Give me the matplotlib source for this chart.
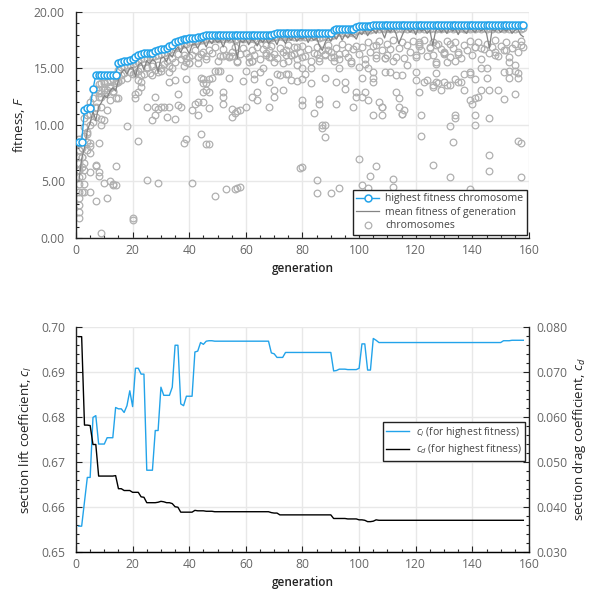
import matplotlib
matplotlib.use('Agg')
import matplotlib.pyplot as plt
from matplotlib.ticker import MultipleLocator, FormatStrFormatter

plt.rcParams['font.family'] = 'Open Sans'
plt.rcParams['font.size'] = 7.5
plt.rcParams['mathtext.fontset'] = 'custom'
plt.rcParams['mathtext.rm'] = 'Open Sans'
plt.rcParams['mathtext.it'] = 'Open Sans:italic'

BLUE = '#22a3ea'
GREY_PT = '#b0b0b0'
GREY_LN = '#848484'
TICK_C = '#666666'
TICK_FS = 8.7
LABEL_FS = 9.5

# ---- data: generations 1..158 ----
gens = list(range(1, 159))

best_fit = [8.5, 8.5, 11.36, 11.54, 11.54, 13.16, 14.43, 14.43, 14.43, 14.43,
            14.43, 14.43, 14.43, 14.43, 15.52, 15.6, 15.63, 15.7, 15.76, 15.85,
            16.0, 16.15, 16.3, 16.35, 16.35, 16.35, 16.4, 16.53, 16.6, 16.7,
            16.75, 16.83, 16.95, 17.1, 17.35, 17.44, 17.56, 17.6, 17.65, 17.68,
            17.7, 17.72, 17.76, 17.8, 17.87, 17.93, 17.96, 17.96, 17.96, 17.96,
            17.96, 17.96, 17.96, 17.96, 17.96, 17.96, 17.96, 17.96, 17.96, 17.96,
            17.96, 17.96, 17.96, 17.96, 17.96, 17.96, 17.96, 17.96, 17.96, 18.04,
            18.1, 18.17, 18.17, 18.17, 18.17, 18.17, 18.17, 18.17, 18.17, 18.17,
            18.17, 18.17, 18.17, 18.17, 18.17, 18.17, 18.17, 18.17, 18.17, 18.17,
            18.4, 18.47, 18.47, 18.47, 18.47, 18.47, 18.47, 18.47, 18.65, 18.8,
            18.8, 18.8, 18.8, 18.8, 18.88, 18.88, 18.88, 18.88, 18.88, 18.88,
            18.88, 18.88, 18.88, 18.88, 18.88, 18.88, 18.88, 18.88, 18.88, 18.88,
            18.88, 18.88, 18.88, 18.88, 18.88, 18.88, 18.88, 18.88, 18.88, 18.88,
            18.88, 18.88, 18.88, 18.88, 18.88, 18.88, 18.88, 18.88, 18.88, 18.88,
            18.88, 18.88, 18.88, 18.88, 18.88, 18.88, 18.88, 18.88, 18.88, 18.88,
            18.88, 18.88, 18.88, 18.88, 18.88, 18.88, 18.88, 18.88]

mean_fit = [5.0, 7.0, 8.0, 9.5, 10.2, 11.2, 10.4, 11.6, 12.0, 12.6,
            12.4, 13.0, 13.3, 13.0, 14.0, 14.6, 14.9, 14.5, 15.0, 15.1,
            14.3, 15.3, 15.5, 14.9, 15.7, 15.4, 15.8, 15.6, 14.7, 15.9,
            16.0, 15.6, 16.3, 16.0, 16.6, 16.9, 16.4, 17.0, 16.8, 16.3,
            17.1, 17.2, 16.8, 17.3, 17.4, 16.9, 17.5, 17.2, 17.6, 17.3,
            17.5, 16.9, 17.6, 17.4, 17.7, 17.2, 15.9, 17.5, 17.3, 17.6,
            17.1, 17.6, 17.4, 17.0, 17.6, 17.3, 17.7, 17.2, 17.5, 17.6,
            17.1, 17.8, 17.6, 17.2, 17.8, 17.5, 17.9, 17.4, 17.7, 17.6,
            17.9, 17.3, 17.8, 17.5, 17.7, 17.0, 16.6, 17.3, 17.8, 17.4,
            17.9, 17.6, 18.1, 17.5, 18.0, 17.7, 18.1, 17.9, 17.6, 18.2,
            18.0, 18.4, 17.9, 18.3, 18.4, 18.1, 18.6, 18.3, 17.7, 18.5,
            18.2, 18.6, 18.1, 17.2, 17.8, 18.4, 18.6, 18.2, 18.5, 18.0,
            18.6, 18.3, 18.5, 18.1, 18.4, 17.05, 18.3, 18.6, 18.2, 18.5,
            18.1, 18.6, 18.3, 18.5, 18.0, 18.6, 18.3, 18.1, 18.6, 18.4,
            18.2, 18.6, 18.3, 18.5, 18.1, 16.8, 18.5, 18.3, 18.6, 18.2,
            18.5, 18.3, 18.6, 18.1, 18.4, 18.5, 18.0, 17.8]

# chromosomes close to the top of each generation (one per generation)
chrom_hi = [7.8, 8.0, 10.6, 10.9, 11.0, 12.4, 13.2, 13.6, 13.7, 13.9,
            13.8, 14.0, 14.1, 13.9, 14.9, 15.1, 15.2, 15.3, 15.3, 15.4,
            15.5, 15.6, 15.8, 15.9, 15.8, 16.0, 16.0, 16.1, 16.2, 16.3,
            16.4, 16.5, 16.6, 16.7, 16.9, 17.0, 17.1, 17.2, 17.2, 17.3,
            17.3, 17.4, 17.4, 17.5, 17.5, 17.6, 17.6, 17.6, 17.7, 17.6,
            17.7, 17.6, 17.7, 17.6, 17.7, 17.5, 17.6, 17.7, 17.6, 17.7,
            17.6, 17.7, 17.6, 17.5, 17.7, 17.6, 17.7, 17.6, 17.7, 17.8,
            17.8, 17.9, 17.8, 17.9, 17.8, 17.9, 17.8, 17.9, 17.8, 17.9,
            17.8, 17.9, 17.8, 17.9, 17.8, 17.7, 17.8, 17.9, 17.8, 17.9,
            18.0, 18.1, 18.2, 18.1, 18.2, 18.1, 18.2, 18.1, 18.3, 18.4,
            18.5, 18.4, 18.5, 18.4, 18.5, 18.6, 18.5, 18.6, 18.5, 18.6,
            18.5, 18.6, 18.5, 18.6, 18.5, 18.6, 18.5, 18.6, 18.5, 18.6,
            18.5, 18.6, 18.5, 18.6, 18.5, 18.6, 18.5, 18.6, 18.5, 18.6,
            18.5, 18.6, 18.5, 18.6, 18.5, 18.6, 18.5, 18.6, 18.5, 18.6,
            18.5, 18.6, 18.5, 18.6, 18.5, 18.6, 18.5, 18.6, 18.5, 18.6,
            18.5, 18.6, 18.5, 18.6, 18.5, 18.6, 18.5, 18.6]

# a second, lower chromosome per generation
chrom_lo = [6.0, 7.2, 9.0, 9.4, 10.0, 10.3, 11.5, 12.8, 12.5, 13.1,
            12.9, 13.3, 13.0, 13.7, 13.9, 14.4, 14.6, 14.2, 14.7, 14.5,
            14.6, 14.0, 15.0, 14.5, 15.1, 14.6, 15.2, 14.9, 15.3, 14.8,
            15.4, 15.7, 15.2, 15.9, 15.6, 16.3, 15.8, 16.2, 15.9, 15.5,
            16.2, 16.6, 16.0, 16.3, 16.5, 15.8, 16.6, 16.4, 16.9, 15.7,
            16.1, 16.7, 16.2, 16.0, 16.5, 16.9, 15.7, 16.3, 16.8, 16.4,
            15.6, 16.6, 16.2, 16.9, 15.8, 16.7, 16.4, 16.0, 17.0, 16.3,
            15.9, 16.8, 15.5, 16.6, 17.1, 16.2, 16.9, 15.8, 16.5, 17.0,
            16.1, 16.7, 15.7, 16.4, 16.9, 15.9, 16.6, 16.2, 17.1, 16.5,
            16.0, 16.8, 15.8, 17.2, 16.4, 16.9, 15.5, 16.7, 17.0, 16.3,
            16.9, 15.8, 17.3, 16.5, 17.0, 16.2, 17.4, 16.6, 15.9, 17.2,
            16.7, 17.5, 16.0, 16.8, 17.3, 15.9, 17.1, 16.5, 17.4, 16.2,
            17.0, 16.6, 17.5, 16.1, 16.9, 17.3, 15.6, 17.2, 16.7, 16.4,
            17.4, 16.0, 16.8, 17.3, 16.5, 15.9, 17.1, 16.6, 17.4, 16.2,
            16.9, 17.3, 15.8, 16.7, 17.2, 16.4, 16.9, 17.5, 16.1, 17.0,
            16.6, 17.3, 16.0, 16.8, 17.2, 16.5, 17.4, 16.9]

# remaining chromosomes, read point by point
extra_gen = [1, 1, 1, 1, 1, 1, 1, 1, 1, 1, 1, 1, 1,
             2, 2, 2, 2, 3, 3, 3, 3, 3, 4, 4, 4,
             5, 5, 5, 5, 5, 5, 5, 7, 7, 7, 7, 7, 8, 8, 8, 8, 8,
             9, 9, 9, 9, 10, 10, 10, 10, 11, 11, 11, 12, 12, 12, 13, 13, 13,
             14, 14, 14, 15, 15, 16, 18, 20, 20, 21, 21, 22, 22, 23, 23,
             25, 25, 27, 28, 28, 28, 29, 29, 30, 31, 32, 33, 33, 35, 35, 36, 36, 37,
             22, 23, 25, 27, 29, 30, 33, 34, 38, 39, 39, 39, 38,
             40, 40, 43, 43, 46, 44, 45, 45, 46, 47, 48, 49, 50, 51,
             45, 46, 47, 47, 45, 43, 42, 41, 43, 52, 54, 55, 57, 54, 52, 52, 52,
             55, 56, 55, 57, 58, 60, 59, 60, 61, 62, 62, 62, 64, 64, 63, 63, 65, 66,
             67, 67, 68, 69, 70, 68, 68, 70, 70, 73, 74, 75, 76, 77, 78,
             71, 72, 73, 74, 75, 76, 78, 78, 41, 44, 46, 47, 49, 53, 56, 57, 58, 79,
             80, 80, 80, 81, 83, 83, 80, 80, 84, 86, 86, 87, 88, 87, 88,
             80, 85, 85, 90, 93, 85, 86, 88, 89, 90, 91, 93,
             88, 92, 95, 95, 93, 96, 97, 92, 98, 99, 99, 101, 102, 103,
             100, 101, 102, 103, 105, 106, 106, 105, 105, 107, 108, 108, 105, 108,
             109, 110, 109, 111, 112, 113, 114, 114, 115, 115, 116, 113, 115, 117,
             100, 106, 104, 103, 101, 112, 112,
             120, 121, 121, 120, 120, 121, 122, 122, 126,
             123, 124, 126, 126, 127, 128, 130, 131, 129, 132,
             125, 126, 127, 127, 130, 130, 131, 132, 134, 135,
             127, 134, 135, 136, 137, 139, 139, 141,
             134, 134, 132, 133, 132, 139,
             137, 139, 140, 141, 142, 143, 146, 149, 151, 155,
             141, 141, 146, 146, 146, 156, 157, 157,
             141, 143, 145, 145, 143, 148, 148, 152, 153, 151, 153, 153, 155, 155, 156, 156, 157]
extra_fit = [8.8, 8.4, 7.8, 7.2, 6.6, 6.0, 5.4, 4.8, 4.1, 3.5, 2.9, 2.3, 1.8,
             7.2, 6.3, 4.1, 5.5, 9.8, 4.1, 4.8, 6.6, 6.0, 9.2, 8.5, 7.8,
             8.4, 8.1, 7.5, 5.8, 4.1, 12.0, 11.6, 3.3, 6.5, 6.4, 11.6, 10.7, 8.4, 5.8, 5.5, 13.1, 12.5,
             0.45, 10.0, 10.5, 11.6, 10.4, 4.9, 12.7, 13.7, 3.5, 11.3, 13.1, 5.0, 12.2, 13.4, 4.8, 4.7, 12.9,
             4.7, 6.4, 12.4, 12.4, 13.8, 14.0, 9.9, 1.8, 1.6, 12.7, 12.4, 8.6, 12.9, 13.8, 13.4,
             5.1, 11.6, 10.4, 10.9, 11.6, 12.5, 4.9, 11.4, 11.6, 11.6, 10.7, 11.6, 13.8, 10.5, 14.0, 12.7, 11.8, 11.6,
             14.8, 14.4, 15.0, 14.4, 14.7, 15.0, 14.7, 15.0, 15.2, 15.6, 14.1, 8.8, 8.4,
             16.0, 15.5, 16.0, 15.5, 16.1, 14.2, 14.1, 13.7, 13.7, 14.1, 14.2, 14.8, 14.8, 14.8,
             12.9, 13.1, 12.9, 11.5, 12.0, 12.0, 11.9, 11.3, 10.9, 16.1, 16.1, 16.1, 15.6, 14.2, 12.5, 12.9, 11.9,
             11.4, 11.1, 10.7, 11.2, 11.3, 11.6, 13.9, 14.8, 16.0, 15.7, 15.7, 12.5, 12.9, 12.2, 14.5, 14.1, 14.7, 15.0,
             16.2, 17.1, 16.6, 16.0, 15.6, 13.8, 11.6, 13.1, 12.5, 16.5, 16.2, 15.7, 16.2, 16.3, 16.9,
             14.5, 14.4, 13.1, 14.5, 14.5, 14.0, 13.9, 15.3, 4.9, 9.2, 8.3, 8.3, 3.7, 4.3, 4.3, 4.4, 4.5, 6.2,
             16.0, 15.0, 14.1, 14.5, 15.0, 13.7, 12.2, 11.8, 11.1, 12.3, 11.9, 9.97, 9.97, 9.7, 8.9,
             6.3, 5.1, 4.0, 4.0, 4.4, 16.3, 15.7, 16.3, 16.6, 16.0, 15.7, 16.3,
             14.2, 13.8, 13.8, 13.2, 15.0, 16.0, 15.7, 11.9, 11.6, 12.9, 12.5, 12.5, 12.9, 12.2,
             15.1, 14.2, 15.4, 15.0, 14.7, 15.9, 17.1, 14.2, 13.8, 12.0, 11.6, 11.6, 10.9, 10.9,
             15.9, 16.2, 14.7, 14.7, 15.7, 12.9, 12.4, 11.6, 11.0, 11.0, 11.3, 14.4, 14.4, 15.3,
             7.0, 6.4, 5.5, 4.4, 4.7, 5.2, 4.5,
             16.0, 17.2, 17.3, 14.7, 14.0, 12.9, 10.9, 9.0, 6.5,
             13.8, 14.0, 13.5, 13.4, 13.8, 13.7, 13.8, 13.5, 13.1, 13.5,
             16.8, 16.2, 15.4, 17.1, 16.3, 16.5, 15.6, 17.2, 15.7, 16.3,
             14.6, 14.1, 13.8, 13.8, 14.5, 14.7, 14.5, 14.1,
             10.9, 10.6, 9.9, 8.5, 5.4, 4.3,
             13.1, 12.2, 11.9, 12.4, 12.5, 13.1, 13.1, 13.1, 12.3, 12.7,
             10.9, 10.0, 10.6, 7.3, 5.9, 8.6, 8.4, 5.4,
             16.9, 15.0, 15.0, 14.2, 16.8, 16.5, 16.2, 16.6, 15.6, 14.7, 14.2, 14.8, 14.8, 15.3, 14.2, 14.6, 17.1]

# lift and drag coefficients of the best chromosome
cl_best = [0.6558, 0.6558, 0.6612, 0.6666, 0.6666, 0.6799, 0.6803, 0.6740, 0.6740, 0.6740,
           0.6754, 0.6754, 0.6754, 0.6821, 0.6818, 0.6818, 0.6810, 0.6825, 0.6858, 0.6823,
           0.6908, 0.6908, 0.6895, 0.6895, 0.6682, 0.6682, 0.6682, 0.6770, 0.6770, 0.6866,
           0.6848, 0.6848, 0.6848, 0.6866, 0.6959, 0.6959, 0.6829, 0.6825, 0.6846, 0.6846,
           0.6846, 0.6944, 0.6946, 0.6965, 0.6961, 0.6968, 0.6969, 0.6969, 0.6968, 0.6968,
           0.6968, 0.6968, 0.6968, 0.6968, 0.6968, 0.6968, 0.6968, 0.6968, 0.6968, 0.6968,
           0.6968, 0.6968, 0.6968, 0.6968, 0.6968, 0.6968, 0.6968, 0.6968, 0.6942, 0.6940,
           0.6932, 0.6932, 0.6932, 0.6943, 0.6943, 0.6943, 0.6943, 0.6943, 0.6943, 0.6943,
           0.6943, 0.6943, 0.6943, 0.6943, 0.6943, 0.6943, 0.6943, 0.6943, 0.6943, 0.6943,
           0.6902, 0.6903, 0.6906, 0.6906, 0.6906, 0.6905, 0.6905, 0.6905, 0.6905, 0.6908,
           0.6962, 0.6962, 0.6904, 0.6904, 0.6974, 0.6970, 0.6965, 0.6965, 0.6965, 0.6965,
           0.6965, 0.6965, 0.6965, 0.6965, 0.6965, 0.6965, 0.6965, 0.6965, 0.6965, 0.6965,
           0.6965, 0.6965, 0.6965, 0.6965, 0.6965, 0.6965, 0.6965, 0.6965, 0.6965, 0.6965,
           0.6965, 0.6965, 0.6965, 0.6965, 0.6965, 0.6965, 0.6965, 0.6965, 0.6965, 0.6965,
           0.6965, 0.6965, 0.6965, 0.6965, 0.6965, 0.6965, 0.6965, 0.6965, 0.6965, 0.6965,
           0.6969, 0.6969, 0.6969, 0.6970, 0.6970, 0.6970, 0.6970, 0.6970]

cd_best = [0.0778, 0.0778, 0.0582, 0.0582, 0.0581, 0.0539, 0.0539, 0.0469, 0.0469, 0.0469,
           0.0469, 0.0469, 0.0469, 0.0470, 0.0441, 0.0441, 0.0437, 0.0437, 0.0437, 0.0433,
           0.0433, 0.0433, 0.0423, 0.0422, 0.0410, 0.0410, 0.0410, 0.0410, 0.0411, 0.0413,
           0.0412, 0.0410, 0.0410, 0.0408, 0.0401, 0.0400, 0.0389, 0.0389, 0.0389, 0.0389,
           0.0389, 0.0393, 0.0392, 0.0392, 0.0392, 0.0391, 0.0391, 0.0391, 0.0390, 0.0390,
           0.0390, 0.0390, 0.0390, 0.0390, 0.0390, 0.0390, 0.0390, 0.0390, 0.0390, 0.0390,
           0.0390, 0.0390, 0.0390, 0.0390, 0.0390, 0.0390, 0.0390, 0.0390, 0.0388, 0.0387,
           0.0387, 0.0383, 0.0383, 0.0383, 0.0383, 0.0383, 0.0383, 0.0383, 0.0383, 0.0383,
           0.0383, 0.0383, 0.0383, 0.0383, 0.0383, 0.0383, 0.0383, 0.0383, 0.0383, 0.0383,
           0.0375, 0.0375, 0.0375, 0.0375, 0.0375, 0.0374, 0.0374, 0.0374, 0.0374, 0.0372,
           0.0372, 0.0371, 0.0368, 0.0368, 0.0369, 0.0372, 0.0371, 0.0371, 0.0371, 0.0371,
           0.0371, 0.0371, 0.0371, 0.0371, 0.0371, 0.0371, 0.0371, 0.0371, 0.0371, 0.0371,
           0.0371, 0.0371, 0.0371, 0.0371, 0.0371, 0.0371, 0.0371, 0.0371, 0.0371, 0.0371,
           0.0371, 0.0371, 0.0371, 0.0371, 0.0371, 0.0371, 0.0371, 0.0371, 0.0371, 0.0371,
           0.0371, 0.0371, 0.0371, 0.0371, 0.0371, 0.0371, 0.0371, 0.0371, 0.0371, 0.0371,
           0.0371, 0.0371, 0.0371, 0.0371, 0.0371, 0.0371, 0.0371, 0.0371]


def style_ax(ax, left_pad=8):
    ax.set_xlim(0, 160)
    ax.xaxis.set_major_locator(MultipleLocator(20))
    ax.xaxis.set_minor_locator(MultipleLocator(5))
    ax.grid(True, which='major', color='#e8e8e8', lw=1)
    ax.set_axisbelow(True)
    ax.tick_params(which='both', direction='in', colors='#222222', labelcolor=TICK_C,
                   labelsize=TICK_FS)
    ax.tick_params(which='major', length=4, width=0.8)
    ax.tick_params(which='minor', length=2.5, width=0.8)
    ax.tick_params(axis='y', pad=left_pad)
    ax.tick_params(axis='x', pad=4)
    ax.spines['top'].set_visible(False)
    ax.spines['right'].set_visible(False)
    for s in ('left', 'bottom'):
        ax.spines[s].set_color('#222222')
        ax.spines[s].set_linewidth(1)
    ax.set_xlabel('generation', fontsize=8.5, fontweight='semibold', color='#222222', labelpad=4)


fig = plt.figure(figsize=(5.9, 5.93), dpi=100)

# ---- top: fitness ----
ax1 = fig.add_axes([0.1288, 0.5987, 0.7678, 0.3811])
style_ax(ax1)
ax1.set_ylim(0, 20)
ax1.yaxis.set_major_locator(MultipleLocator(5))
ax1.yaxis.set_minor_locator(MultipleLocator(1))
ax1.yaxis.set_major_formatter(FormatStrFormatter('%.2f'))

ax1.plot(gens, chrom_lo, 'o', ms=4.8, mfc='none', mec=GREY_PT, mew=0.9, zorder=2)
ax1.plot(gens, chrom_hi, 'o', ms=4.8, mfc='none', mec=GREY_PT, mew=0.9, zorder=2)
ax1.plot(extra_gen, extra_fit, 'o', ms=4.8, mfc='none', mec=GREY_PT, mew=0.9, zorder=2,
         label='chromosomes')
ax1.plot(gens, mean_fit, '-', color=GREY_LN, lw=0.9, zorder=3, label='mean fitness of generation')
ax1.plot(gens, best_fit, '-o', color=BLUE, lw=1, ms=5, mfc='white', mec=BLUE, mew=1.1,
         zorder=4, label='highest fitness chromosome')
ax1.set_ylabel('fitness, $F$', fontsize=LABEL_FS, color='#222222', labelpad=5)

h, l = ax1.get_legend_handles_labels()
leg1 = ax1.legend(h[::-1], l[::-1], loc='lower right', bbox_to_anchor=(0.995, 0.015),
                  borderaxespad=0, fancybox=False, framealpha=1, edgecolor='#222222',
                  fontsize=7.5, handlelength=2.2, borderpad=0.3, labelspacing=0.25,
                  handletextpad=0.6)
leg1.get_frame().set_linewidth(1)
for t in leg1.get_texts():
    t.set_color('#444444')

# ---- bottom: lift and drag ----
ax2 = fig.add_axes([0.1288, 0.0686, 0.7678, 0.3804])
style_ax(ax2)
ax2.set_ylim(0.65, 0.70)
ax2.yaxis.set_major_locator(MultipleLocator(0.01))
ax2.yaxis.set_minor_locator(MultipleLocator(0.002))
ax2.yaxis.set_major_formatter(FormatStrFormatter('%.2f'))
l_cl, = ax2.plot(gens, cl_best, color=BLUE, lw=1, label='$c_l$ (for highest fitness)')
ax2.set_ylabel('section lift coefficient, $c_l$', fontsize=LABEL_FS, color='#222222', labelpad=5)

ax3 = ax2.twinx()
ax3.set_ylim(0.03, 0.08)
ax3.yaxis.set_major_locator(MultipleLocator(0.01))
ax3.yaxis.set_minor_locator(MultipleLocator(0.002))
ax3.yaxis.set_major_formatter(FormatStrFormatter('%.3f'))
ax3.tick_params(which='both', direction='in', colors='#222222', labelcolor=TICK_C, pad=5,
                labelsize=TICK_FS)
ax3.tick_params(which='major', length=4, width=0.8)
ax3.tick_params(which='minor', length=2.5, width=0.8)
ax3.spines['top'].set_visible(False)
ax3.spines['left'].set_visible(False)
ax3.spines['right'].set_color('#222222')
ax3.spines['right'].set_linewidth(1)
l_cd, = ax3.plot(gens, cd_best, color='black', lw=1, label='$c_d$ (for highest fitness)')
ax3.set_ylabel('section drag coefficient, $c_d$', fontsize=LABEL_FS, color='#222222',
               rotation=90, labelpad=3)

leg2 = ax3.legend([l_cl, l_cd], [l_cl.get_label(), l_cd.get_label()], loc='upper right',
                  bbox_to_anchor=(0.991, 0.579), borderaxespad=0, fancybox=False,
                  framealpha=1, edgecolor='#222222', fontsize=7.5, handlelength=2.2,
                  borderpad=0.3, labelspacing=0.25, handletextpad=0.6)
leg2.get_frame().set_linewidth(1)
for t in leg2.get_texts():
    t.set_color('#444444')

fig.savefig('out.png', dpi=100)
